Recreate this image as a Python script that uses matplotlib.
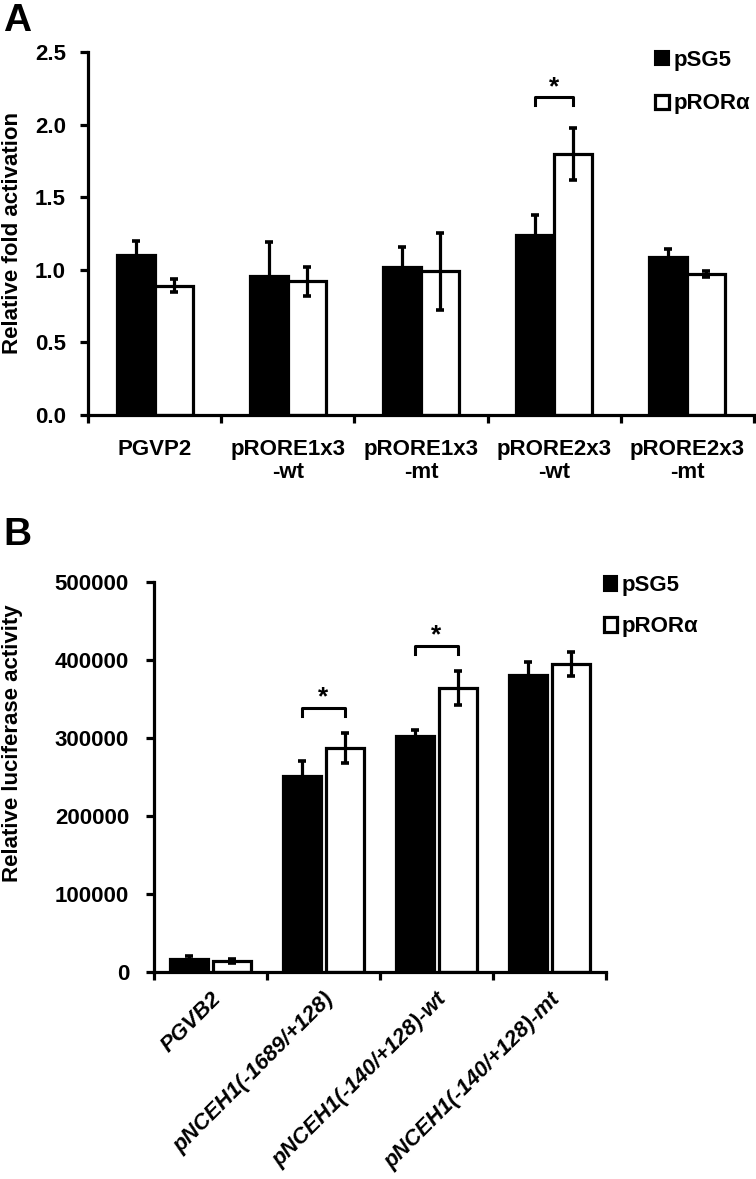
import matplotlib
matplotlib.use('Agg')
import matplotlib.pyplot as plt
import numpy as np
from matplotlib.patches import Patch
from matplotlib.ticker import FixedLocator, FormatStrFormatter

plt.rcParams['font.family'] = ['Liberation Sans', 'DejaVu Sans']
plt.rcParams['font.weight'] = 'bold'

# ---------------- data ----------------
series_labels = ['pSG5', 'pRORα']

a_categories = ['PGVP2', 'pRORE1x3\n-wt', 'pRORE1x3\n-mt', 'pRORE2x3\n-wt', 'pRORE2x3\n-mt']
a_psg5 = [1.10, 0.96, 1.02, 1.24, 1.09]
a_psg5_err = [0.10, 0.23, 0.14, 0.135, 0.055]
a_pror = [0.89, 0.92, 0.99, 1.80, 0.97]
a_pror_err = [0.045, 0.10, 0.265, 0.18, 0.02]
a_sig_groups = [3]

b_categories = ['PGVB2', 'pNCEH1(-1689/+128)', 'pNCEH1(-140/+128)-wt', 'pNCEH1(-140/+128)-mt']
b_psg5 = [17000, 251000, 302000, 381000]
b_psg5_err = [3000, 19000, 8000, 16000]
b_pror = [14000, 287000, 364000, 395000]
b_pror_err = [2500, 19000, 21500, 15000]
b_sig_groups = [1, 2]

FS = 16
W, H = 756, 1179
fig = plt.figure(figsize=(W / 100, H / 100), dpi=100)


def style_axes(ax, n):
    for s in ['top', 'right']:
        ax.spines[s].set_visible(False)
    for s in ['left', 'bottom']:
        ax.spines[s].set_linewidth(2.3)
    ax.set_xlim(-0.5, n - 0.5)
    ax.set_xticks(np.arange(n))
    ax.xaxis.set_minor_locator(FixedLocator(np.arange(n + 1) - 0.5))
    ax.tick_params(axis='x', which='major', length=0)
    ax.tick_params(axis='x', which='minor', length=6, width=2.3, direction='out')
    ax.tick_params(axis='y', which='major', length=6, width=2.3, direction='out', labelsize=FS)


def bracket(ax, i, off, y, d, star_dy):
    ax.plot([i - off, i - off, i + off, i + off], [y - d, y, y, y - d],
            color='black', lw=2.2, clip_on=False, zorder=5)
    ax.text(i, y + star_dy, '*', ha='center', va='center', fontsize=FS + 3,
            fontweight='bold', clip_on=False)


def draw_panel(ax, cats, v1, e1, v2, e2, width, offset, sig, pad_frac, d_frac, star_frac, ymax):
    n = len(cats)
    x = np.arange(n)
    ax.bar(x - offset, v1, width, color='black', edgecolor='black', linewidth=2.3, zorder=2)
    ax.bar(x + offset, v2, width, color='white', edgecolor='black', linewidth=2.3, zorder=2)
    ax.errorbar(x - offset, v1, yerr=e1, fmt='none', ecolor='black', elinewidth=2.3,
                capsize=3.2, capthick=2.6, zorder=3)
    ax.errorbar(x + offset, v2, yerr=e2, fmt='none', ecolor='black', elinewidth=2.3,
                capsize=3.2, capthick=2.6, zorder=3)
    style_axes(ax, n)
    ax.set_ylim(0, ymax)
    for g in sig:
        top = max(v1[g] + e1[g], v2[g] + e2[g])
        y = top + pad_frac * ymax
        bracket(ax, g, offset, y, d_frac * ymax, star_frac * ymax)
    handles = [Patch(facecolor='black', edgecolor='black', linewidth=1.5),
               Patch(facecolor='white', edgecolor='black', linewidth=2.3)]
    return handles


# ---------------- Panel A ----------------
axA = fig.add_axes([88 / W, 1 - 415 / H, 666 / W, 363 / H])
hA = draw_panel(axA, a_categories, a_psg5, a_psg5_err, a_pror, a_pror_err,
                0.285, 0.1425, a_sig_groups, 0.084, 0.022, 0.027, 2.5)
axA.set_yticks(np.arange(0, 2.51, 0.5))
axA.yaxis.set_major_formatter(FormatStrFormatter('%.1f'))
axA.tick_params(axis='y', pad=10)
axA.set_xticklabels(a_categories, fontsize=FS, linespacing=1.15)
axA.tick_params(axis='x', which='major', pad=17)
axA.set_ylabel('Relative fold activation', fontsize=FS, fontweight='bold')
axA.yaxis.set_label_coords(-0.098, 0.5)
axA.legend(hA, series_labels, loc='upper left', bbox_to_anchor=(0.852, 1.005),
           frameon=False, fontsize=FS, handlelength=0.6, handleheight=0.6,
           handletextpad=0.2, labelspacing=1.0, borderaxespad=0, borderpad=0)

# ---------------- Panel B ----------------
axB = fig.add_axes([154 / W, 1 - 972 / H, 452 / W, 390 / H])
hB = draw_panel(axB, b_categories, b_psg5, b_psg5_err, b_pror, b_pror_err,
                0.33, 0.19, b_sig_groups, 0.066, 0.022, 0.027, 500000)
axB.set_yticks(np.arange(0, 500001, 100000))
axB.yaxis.set_major_formatter(FormatStrFormatter('%d'))
axB.tick_params(axis='y', pad=12)
axB.set_xticklabels(b_categories, fontsize=FS, fontstyle='italic', rotation=45,
                    ha='right', rotation_mode='anchor')
axB.tick_params(axis='x', which='major', pad=12)
axB.set_ylabel('Relative luciferase activity', fontsize=FS, fontweight='bold')
axB.yaxis.set_label_coords(-0.290, 0.587)
axB.legend(hB, series_labels, loc='upper left', bbox_to_anchor=(0.995, 1.017),
           frameon=False, fontsize=FS, handlelength=0.6, handleheight=0.6,
           handletextpad=0.2, labelspacing=0.9, borderaxespad=0, borderpad=0)

fig.text(3 / W, 1 - 21 / H, 'A', fontsize=28, fontweight='bold', va='center', ha='left')
fig.text(3 / W, 1 - 535 / H, 'B', fontsize=28, fontweight='bold', va='center', ha='left')

fig.savefig('out.png', dpi=100)
